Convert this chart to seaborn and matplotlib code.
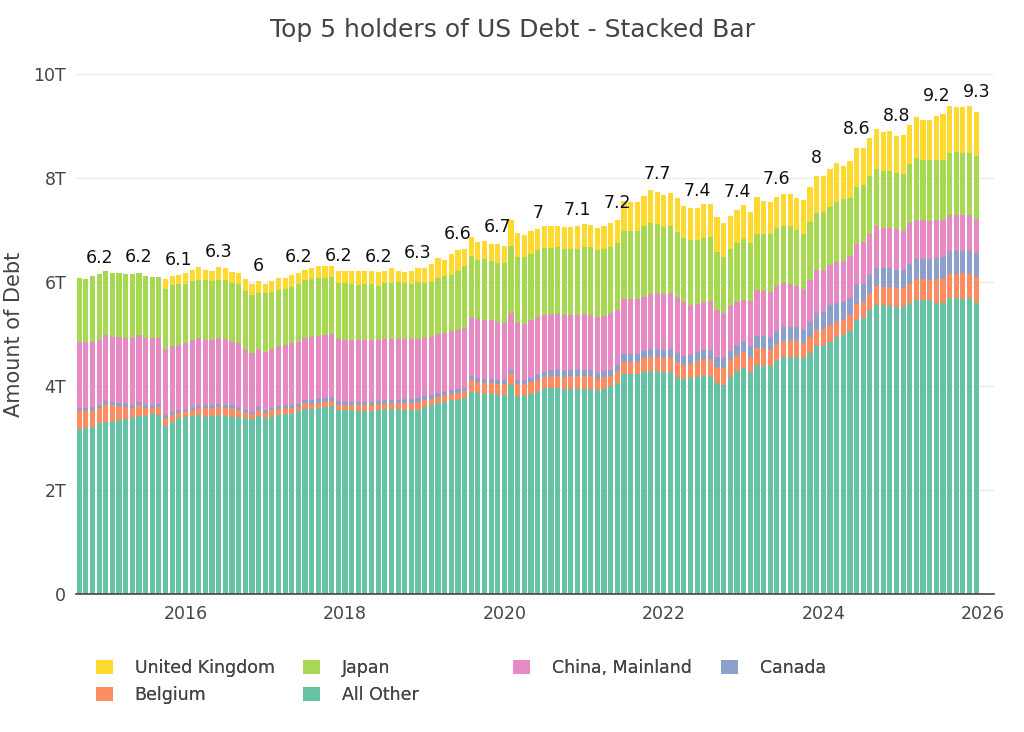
import numpy as np
import pandas as pd
import matplotlib
matplotlib.use("Agg")
import matplotlib.pyplot as plt
from matplotlib.patches import Patch
import seaborn as sns

# ---------------- data (trillions USD, month-end) ----------------
months = pd.date_range("2014-08-31", "2025-11-30", freq="ME")

all_other = [3.17, 3.19, 3.22, 3.28, 3.31, 3.31, 3.35, 3.36, 3.38, 3.42, 3.42, 3.46, 3.45,
             3.23, 3.31, 3.38, 3.40, 3.42, 3.44, 3.41, 3.42, 3.44, 3.42, 3.41, 3.40, 3.38,
             3.36, 3.42, 3.38, 3.41, 3.44, 3.46, 3.47, 3.51, 3.55, 3.56, 3.58, 3.60, 3.61,
             3.54, 3.53, 3.53, 3.51, 3.51, 3.51, 3.53, 3.55, 3.56, 3.55, 3.54, 3.53, 3.54,
             3.59, 3.63, 3.68, 3.70, 3.73, 3.74, 3.76, 3.89, 3.86, 3.85, 3.85, 3.83, 3.83,
             4.02, 3.80, 3.81, 3.85, 3.89, 3.97, 3.97, 3.97, 3.95, 3.95, 3.95, 3.95, 3.94,
             3.92, 3.94, 4.00, 4.05, 4.23, 4.24, 4.24, 4.26, 4.28, 4.28, 4.26, 4.26, 4.18,
             4.13, 4.15, 4.18, 4.19, 4.19, 4.06, 4.02, 4.18, 4.28, 4.34, 4.26, 4.40, 4.38,
             4.38, 4.49, 4.55, 4.56, 4.55, 4.53, 4.63, 4.76, 4.76, 4.85, 4.95, 4.98, 5.05,
             5.26, 5.30, 5.46, 5.56, 5.56, 5.54, 5.51, 5.51, 5.59, 5.65, 5.65, 5.65, 5.60,
             5.59, 5.69, 5.69, 5.67, 5.69, 5.59]
belgium = [0.35, 0.33, 0.32, 0.30, 0.34, 0.32, 0.27, 0.24, 0.20, 0.21, 0.16, 0.12, 0.15,
           0.15, 0.13, 0.11, 0.11, 0.12, 0.13, 0.16, 0.15, 0.15, 0.16, 0.16, 0.14, 0.11,
           0.10, 0.12, 0.11, 0.12, 0.11, 0.11, 0.10, 0.09, 0.12, 0.10, 0.10, 0.09, 0.10,
           0.10, 0.10, 0.10, 0.12, 0.12, 0.12, 0.12, 0.11, 0.11, 0.12, 0.14, 0.15, 0.15,
           0.14, 0.12, 0.11, 0.12, 0.12, 0.13, 0.14, 0.22, 0.21, 0.20, 0.20, 0.21, 0.21,
           0.21, 0.24, 0.23, 0.22, 0.23, 0.20, 0.22, 0.23, 0.23, 0.24, 0.24, 0.24, 0.25,
           0.22, 0.23, 0.20, 0.23, 0.23, 0.22, 0.23, 0.27, 0.27, 0.27, 0.28, 0.29, 0.29,
           0.27, 0.28, 0.30, 0.32, 0.32, 0.31, 0.33, 0.32, 0.32, 0.31, 0.29, 0.33, 0.34,
           0.32, 0.32, 0.32, 0.33, 0.32, 0.30, 0.32, 0.31, 0.33, 0.32, 0.29, 0.29, 0.32,
           0.32, 0.32, 0.32, 0.37, 0.35, 0.37, 0.38, 0.37, 0.38, 0.40, 0.40, 0.38, 0.45,
           0.46, 0.47, 0.47, 0.50, 0.47, 0.50]
canada = [0.06, 0.06, 0.06, 0.06, 0.06, 0.06, 0.05, 0.06, 0.06, 0.06, 0.06, 0.06, 0.06,
          0.06, 0.06, 0.05, 0.05, 0.06, 0.06, 0.06, 0.06, 0.06, 0.06, 0.06, 0.06, 0.04,
          0.04, 0.06, 0.04, 0.05, 0.06, 0.06, 0.06, 0.06, 0.06, 0.07, 0.07, 0.07, 0.07,
          0.07, 0.07, 0.07, 0.07, 0.07, 0.07, 0.07, 0.07, 0.07, 0.07, 0.07, 0.07, 0.07,
          0.07, 0.07, 0.07, 0.07, 0.07, 0.07, 0.07, 0.08, 0.08, 0.08, 0.08, 0.08, 0.08,
          0.08, 0.08, 0.08, 0.08, 0.09, 0.10, 0.11, 0.11, 0.11, 0.11, 0.11, 0.11, 0.11,
          0.11, 0.11, 0.11, 0.12, 0.15, 0.15, 0.15, 0.15, 0.16, 0.16, 0.16, 0.16, 0.16,
          0.17, 0.17, 0.18, 0.18, 0.18, 0.18, 0.18, 0.18, 0.19, 0.20, 0.21, 0.23, 0.24,
          0.24, 0.24, 0.26, 0.24, 0.26, 0.24, 0.29, 0.33, 0.34, 0.38, 0.35, 0.35, 0.32,
          0.37, 0.35, 0.35, 0.34, 0.35, 0.35, 0.35, 0.35, 0.38, 0.40, 0.40, 0.42, 0.42,
          0.44, 0.43, 0.43, 0.42, 0.43, 0.46]
china = [1.27, 1.26, 1.25, 1.25, 1.27, 1.26, 1.27, 1.26, 1.28, 1.29, 1.28, 1.28, 1.26,
         1.27, 1.26, 1.25, 1.26, 1.28, 1.29, 1.25, 1.25, 1.27, 1.26, 1.22, 1.22, 1.19,
         1.13, 1.11, 1.13, 1.14, 1.15, 1.16, 1.19, 1.19, 1.19, 1.21, 1.22, 1.22, 1.22,
         1.19, 1.19, 1.19, 1.19, 1.19, 1.19, 1.17, 1.17, 1.17, 1.17, 1.15, 1.15, 1.15,
         1.12, 1.12, 1.14, 1.13, 1.13, 1.13, 1.14, 1.14, 1.13, 1.14, 1.13, 1.12, 1.10,
         1.10, 1.09, 1.08, 1.11, 1.12, 1.09, 1.08, 1.08, 1.07, 1.06, 1.06, 1.08, 1.07,
         1.08, 1.07, 1.09, 1.07, 1.07, 1.07, 1.06, 1.04, 1.06, 1.08, 1.06, 1.08, 1.09,
         1.04, 0.96, 0.92, 0.93, 0.95, 0.91, 0.87, 0.85, 0.83, 0.81, 0.87, 0.88, 0.87,
         0.87, 0.88, 0.85, 0.83, 0.79, 0.80, 0.80, 0.83, 0.81, 0.77, 0.80, 0.79, 0.81,
         0.79, 0.80, 0.80, 0.81, 0.77, 0.77, 0.77, 0.76, 0.78, 0.74, 0.74, 0.72, 0.72,
         0.71, 0.69, 0.70, 0.70, 0.69, 0.67]
japan = [1.22, 1.22, 1.27, 1.27, 1.24, 1.23, 1.24, 1.23, 1.23, 1.20, 1.20, 1.18, 1.18,
         1.15, 1.18, 1.17, 1.15, 1.13, 1.12, 1.16, 1.13, 1.12, 1.14, 1.14, 1.14, 1.11,
         1.12, 1.08, 1.12, 1.09, 1.09, 1.07, 1.09, 1.11, 1.12, 1.12, 1.11, 1.10, 1.10,
         1.09, 1.09, 1.08, 1.06, 1.08, 1.08, 1.04, 1.08, 1.07, 1.09, 1.08, 1.06, 1.09,
         1.06, 1.06, 1.07, 1.09, 1.08, 1.15, 1.19, 1.17, 1.15, 1.17, 1.15, 1.13, 1.15,
         1.28, 1.28, 1.28, 1.28, 1.28, 1.30, 1.28, 1.28, 1.28, 1.28, 1.28, 1.29, 1.30,
         1.28, 1.29, 1.27, 1.28, 1.31, 1.31, 1.31, 1.35, 1.37, 1.33, 1.30, 1.29, 1.25,
         1.24, 1.24, 1.23, 1.22, 1.22, 1.12, 1.09, 1.10, 1.13, 1.17, 1.12, 1.09, 1.10,
         1.12, 1.11, 1.10, 1.12, 1.08, 1.06, 1.12, 1.10, 1.11, 1.12, 1.15, 1.18, 1.11,
         1.09, 1.09, 1.10, 1.09, 1.11, 1.11, 1.08, 1.09, 1.13, 1.19, 1.15, 1.17, 1.15,
         1.15, 1.21, 1.21, 1.19, 1.21, 1.20]
united_kingdom = [0, 0, 0, 0, 0, 0, 0, 0, 0, 0, 0, 0, 0,
                  0.19, 0.18, 0.17, 0.21, 0.22, 0.24, 0.20, 0.21, 0.24, 0.22, 0.21, 0.21, 0.22,
                  0.21, 0.22, 0.18, 0.20, 0.22, 0.22, 0.22, 0.22, 0.19, 0.21, 0.22, 0.23, 0.21,
                  0.22, 0.24, 0.24, 0.27, 0.25, 0.24, 0.26, 0.24, 0.28, 0.21, 0.22, 0.25, 0.27,
                  0.29, 0.35, 0.40, 0.31, 0.40, 0.40, 0.33, 0.36, 0.34, 0.34, 0.33, 0.37, 0.32,
                  0.50, 0.46, 0.43, 0.45, 0.40, 0.41, 0.41, 0.41, 0.42, 0.42, 0.43, 0.44, 0.43,
                  0.42, 0.44, 0.47, 0.45, 0.56, 0.54, 0.54, 0.59, 0.62, 0.62, 0.62, 0.64, 0.64,
                  0.61, 0.62, 0.61, 0.66, 0.64, 0.67, 0.65, 0.64, 0.64, 0.66, 0.59, 0.71, 0.63,
                  0.60, 0.60, 0.61, 0.62, 0.61, 0.64, 0.66, 0.71, 0.69, 0.74, 0.74, 0.64, 0.72,
                  0.74, 0.72, 0.74, 0.77, 0.74, 0.77, 0.72, 0.74, 0.76, 0.79, 0.78, 0.78, 0.85,
                  0.88, 0.90, 0.87, 0.88, 0.90, 0.85]

series = {
    "United Kingdom": united_kingdom,
    "Japan": japan,
    "China, Mainland": china,
    "Canada": canada,
    "Belgium": belgium,
    "All Other": all_other,
}
# stacking: first level on top, last level at the bottom
hue_order = ["United Kingdom", "Japan", "China, Mainland", "Canada", "Belgium", "All Other"]
palette = {
    "United Kingdom": "#ffd92f",
    "Japan": "#a6d854",
    "China, Mainland": "#e78ac3",
    "Canada": "#8da0cb",
    "Belgium": "#fc8d62",
    "All Other": "#66c2a5",
}
year_ticks = [2016, 2018, 2020, 2022, 2024, 2026]
y_ticks = [0, 2, 4, 6, 8, 10]
y_tick_labels = ["0", "2T", "4T", "6T", "8T", "10T"]
title = "Top 5 holders of US Debt - Stacked Bar"
y_title = "Amount of Debt"

# ---------------- build long table ----------------
xpos = (months.year + months.month / 12.0).to_numpy()
rows = []
for name in hue_order:
    for xv, v in zip(xpos, series[name]):
        rows.append({"x": xv, "value": v, "holder": name})
df = pd.DataFrame(rows)
step = 1.0 / 12.0
edges = np.concatenate([xpos - step / 2, [xpos[-1] + step / 2]]).tolist()
totals = np.sum([np.asarray(series[k]) for k in hue_order], axis=0)

# ---------------- plot ----------------
sns.set_style("white")
plt.rcParams["font.family"] = ["DejaVu Sans"]

W, H = 1024, 732
fig = plt.figure(figsize=(W / 100, H / 100), dpi=100)
left, right, top, bottom = 76, 994, 74, 594
ax = fig.add_axes([left / W, 1 - bottom / H, (right - left) / W, (bottom - top) / H])

sns.histplot(data=df, x="x", weights="value", hue="holder", hue_order=hue_order,
             multiple="stack", bins=edges, shrink=0.78, palette=palette,
             alpha=1, linewidth=0, legend=False, ax=ax)

# totals label every 6 months (Nov / May)
for i in range(3, len(xpos), 6):
    t = round(float(totals[i]) + 1e-9, 1)
    txt = f"{t:.1f}".rstrip("0").rstrip(".")
    ax.text(xpos[i], totals[i] * 1.032, txt, ha="center", va="baseline",
            fontsize=12.5, color="#111111")

ax.set_xlim(2014.627, 2026.14)
ax.set_ylim(0, 10)
ax.set_xticks(year_ticks)
ax.set_xticklabels([str(y) for y in year_ticks])
ax.set_yticks(y_ticks)
ax.set_yticklabels(y_tick_labels)
ax.tick_params(axis="both", length=0, labelsize=12.5, colors="#444444")
ax.tick_params(axis="x", pad=8)
ax.tick_params(axis="y", pad=7)
ax.yaxis.grid(True, color="#ebebeb", linewidth=1)
ax.xaxis.grid(False)
ax.set_axisbelow(True)
for s in ["top", "right", "left"]:
    ax.spines[s].set_visible(False)
ax.spines["bottom"].set_color("#444444")
ax.spines["bottom"].set_linewidth(1.2)
ax.set_xlabel("")
ax.set_ylabel(y_title, fontsize=15, color="#444444", labelpad=7)

fig.text(0.5, 1 - 37 / H, title, ha="center", va="baseline", fontsize=18, color="#444444")

# legend: four columns placed like the original horizontal legend
columns = [["United Kingdom", "Belgium"], ["Japan", "All Other"],
           ["China, Mainland"], ["Canada"]]
col_x = [96, 303, 513, 721]
for names, cx in zip(columns, col_x):
    handles = [Patch(facecolor=palette[n], edgecolor="none", label=n) for n in names]
    leg = fig.legend(handles=handles, loc="upper left",
                     bbox_to_anchor=(cx / W, 1 - 659 / H), bbox_transform=fig.transFigure,
                     frameon=False, borderpad=0, borderaxespad=0, fontsize=12.5,
                     handlelength=0.98, handleheight=0.92, handletextpad=1.25,
                     labelspacing=0.52, labelcolor="#444444")
    fig.add_artist(leg)

fig.savefig("out.png", dpi=100)
